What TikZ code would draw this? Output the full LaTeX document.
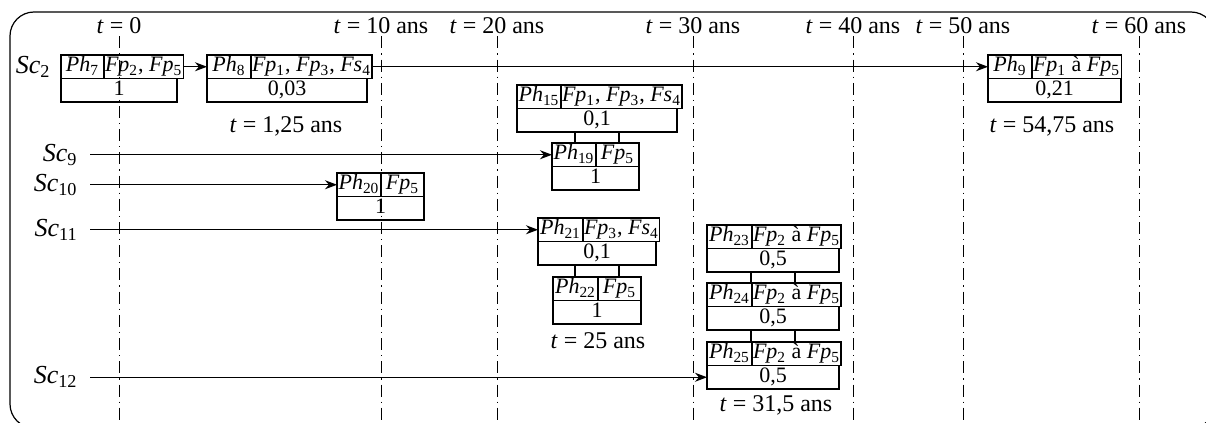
\documentclass[tikz,border=0pt]{standalone}
\usepackage{fontspec}
\setmainfont{Liberation Serif}
\usetikzlibrary{arrows.meta,positioning,calc}

\newcommand{\iv}[2]{\textit{#1}\textsubscript{#2}}
% phase box: name, top-left (px), phase, faults, value, left / right width (px)
\newcommand{\phasebox}[7]{%
  \node[cell, minimum width=#6*0.5pt, anchor=north west] (#1a) at #2 {#3};
  \node[cell, minimum width=#7*0.5pt, right=0pt of #1a] (#1b) {#4};
  \node[cell, minimum width=(#6+#7)*0.5pt, anchor=north west] (#1c) at (#1a.south west) {#5};
}

\begin{document}
\begin{tikzpicture}[
  x=0.5pt, y=-0.5pt,
  cell/.style={draw, line width=0.55pt, inner sep=0.5pt, outer sep=0pt,
               minimum height=11.75pt, text height=7.6pt, text depth=2.4pt,
               font=\fontsize{11}{13}\selectfont},
  lab/.style={font=\fontsize{12}{14}\selectfont, inner sep=1pt},
  sclab/.style={font=\fontsize{13}{15}\selectfont, inner sep=1pt},
  arr/.style={-{Stealth[length=6pt,width=4.5pt]}, line width=0.6pt},
  tline/.style={line width=0.5pt, dash pattern=on 6pt off 2.5pt on 0.6pt off 2.5pt},
  link/.style={line width=0.55pt}
]
\useasboundingbox (0,0) rectangle (1206,423);
\clip (0,0) rectangle (1206,423);
\draw[line width=0.6pt, rounded corners=12pt] (10,12) rectangle (1215,428);

% time axis
\coordinate (bot) at (0,430);
\foreach \x/\t/\n in {119/0/0, 381/10 ans/10, 497/20 ans/20, 693/30 ans/30,
                      853/40 ans/40, 963/50 ans/50, 1139/60 ans/60}{
  \node[lab] (t\n) at (\x,26) {\textit{t} = \t};
  \draw[tline] (t\n.south) -- (t\n.south |- bot);
}

% phases
\phasebox{ph7}{(61,55)}{\iv{Ph}{7}}{\iv{Fp}{2}, \iv{Fp}{5}}{1}{43}{73}
\phasebox{ph8}{(207,55)}{\iv{Ph}{8}}{\iv{Fp}{1}, \iv{Fp}{3}, \iv{Fs}{4}}{0,03}{44}{116}
\phasebox{ph9}{(988,55)}{\iv{Ph}{9}}{\iv{Fp}{1} à \iv{Fp}{5}}{0,21}{44}{89}
\phasebox{ph15}{(517,85)}{\iv{Ph}{15}}{\iv{Fp}{1}, \iv{Fp}{3}, \iv{Fs}{4}}{0,1}{44}{116}
\phasebox{ph19}{(552,143)}{\iv{Ph}{19}}{\iv{Fp}{5}}{1}{44}{43}
\phasebox{ph20}{(337,173)}{\iv{Ph}{20}}{\iv{Fp}{5}}{1}{44}{43}
\phasebox{ph21}{(538,218)}{\iv{Ph}{21}}{\iv{Fp}{3}, \iv{Fs}{4}}{0,1}{45}{73}
\phasebox{ph22}{(553,277)}{\iv{Ph}{22}}{\iv{Fp}{5}}{1}{45}{43}
\phasebox{ph23}{(707,225)}{\iv{Ph}{23}}{\iv{Fp}{2} à \iv{Fp}{5}}{0,5}{45}{87}
\phasebox{ph24}{(707,283)}{\iv{Ph}{24}}{\iv{Fp}{2} à \iv{Fp}{5}}{0,5}{45}{87}
\phasebox{ph25}{(707,342)}{\iv{Ph}{25}}{\iv{Fp}{2} à \iv{Fp}{5}}{0,5}{45}{87}

% simultaneous phases
\foreach \u/\l in {ph15c/ph19a, ph21c/ph22a, ph23c/ph24a, ph24c/ph25a}{
  \draw[link] ($(\u.south)+(-11pt,0)$) -- ($(\u.south |- \l.north)+(-11pt,0)$);
  \draw[link] ($(\u.south)+(11pt,0)$) -- ($(\u.south |- \l.north)+(11pt,0)$);
}

% scenarios
\coordinate (s9) at (90,154.75);
\coordinate (s10) at (90,184.75);
\coordinate (s11) at (90,229.75);
\coordinate (s12) at (90,377.25);
\node[sclab, left=4pt of ph7a] (sc2) {\iv{Sc}{2}};
\node[sclab, left=5pt of s9] (sc9) {\iv{Sc}{9}};
\node[sclab, left=5pt of s10] (sc10) {\iv{Sc}{10}};
\node[sclab, left=5pt of s11] (sc11) {\iv{Sc}{11}};
\node[sclab, left=5pt of s12] (sc12) {\iv{Sc}{12}};
\draw[arr] (ph7b) -- (ph8a);
\draw[arr] (ph8b) -- (ph9a);
\draw[arr] (s9) -- (ph19a);
\draw[arr] (s10) -- (ph20a);
\draw[arr] (s11) -- (ph21a);
\draw[arr] (s12) -- (ph25c);

% dates
\node[lab] (d8) at (286,126) {\textit{t} = 1,25 ans};
\node[lab] (d9) at (1052,126) {\textit{t} = 54,75 ans};
\node[lab] (d22) at (598,341) {\textit{t} = 25 ans};
\node[lab] (d25) at (776,405) {\textit{t} = 31,5 ans};
\end{tikzpicture}
\end{document}
